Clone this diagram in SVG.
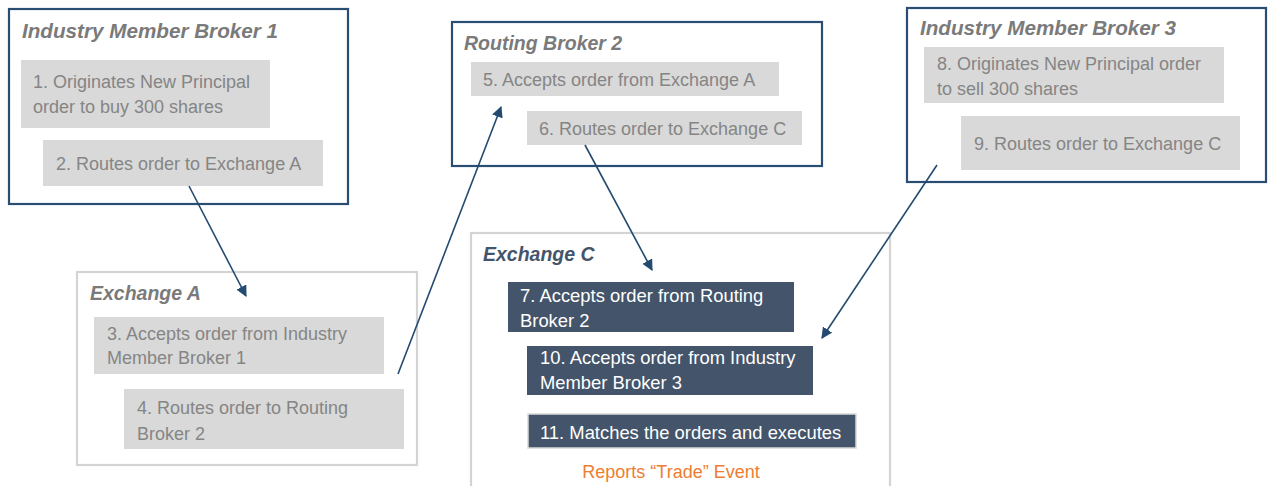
<svg xmlns="http://www.w3.org/2000/svg" width="1268" height="486" viewBox="0 0 1268 486">
<defs>
<style>
.navy{fill:#ffffff;stroke:#2a4d72;stroke-width:2.2}
.lite{fill:#ffffff;stroke:#d4d4d4;stroke-width:2.2}
.gbox{fill:#d9d9d9}
.dbox{fill:#44546a}
.dbox2{fill:#44546a;stroke:#d9d9d9;stroke-width:1.5}
.title{font-family:"Liberation Sans",Arial,sans-serif;font-weight:bold;font-style:italic;font-size:19.5px;fill:#7a7a7a}
.titleC{font-family:"Liberation Sans",Arial,sans-serif;font-weight:bold;font-style:italic;font-size:19.5px;fill:#44546a}
.t{font-family:"Liberation Sans",Arial,sans-serif;font-size:18px;fill:#858585}
.w{font-family:"Liberation Sans",Arial,sans-serif;font-size:18.4px;fill:#ffffff}
.o{font-family:"Liberation Sans",Arial,sans-serif;font-size:18px;fill:#ed7d31}
.conn{stroke:#234a70;stroke-width:1.6;fill:none}
</style>
<marker id="ah" viewBox="0 0 10 10" refX="9" refY="5" markerWidth="7" markerHeight="7" markerUnits="strokeWidth" orient="auto">
<path d="M0,0 L10,5 L0,10 z" fill="#234a70"/>
</marker>
</defs>
<rect width="1268" height="486" fill="#ffffff"/>

<g id="imb1">
<rect class="navy" x="9" y="9" width="339" height="195"/>
<text class="title" x="22" y="38" textLength="256" lengthAdjust="spacingAndGlyphs">Industry Member Broker 1</text>
<rect class="gbox" x="21" y="60" width="249" height="68"/>
<text class="t" x="33" y="88">1. Originates New Principal</text>
<text class="t" x="33" y="113">order to buy 300 shares</text>
<rect class="gbox" x="43" y="140" width="280" height="46"/>
<text class="t" x="56" y="170">2. Routes order to Exchange A</text>
</g>

<g id="exchangeA">
<rect class="lite" x="77" y="272" width="340" height="193"/>
<text class="title" x="90" y="300">Exchange A</text>
<rect class="gbox" x="94" y="317" width="290" height="57"/>
<text class="t" x="107" y="340">3. Accepts order from Industry</text>
<text class="t" x="107" y="364">Member Broker 1</text>
<rect class="gbox" x="124" y="389" width="280" height="60"/>
<text class="t" x="137" y="414">4. Routes order to Routing</text>
<text class="t" x="137" y="440">Broker 2</text>
</g>

<g id="rb2">
<rect class="navy" x="452" y="22" width="370" height="144"/>
<text class="title" x="464" y="50">Routing Broker 2</text>
<rect class="gbox" x="471" y="62" width="308" height="34"/>
<text class="t" x="483" y="86">5. Accepts order from Exchange A</text>
<rect class="gbox" x="527" y="111" width="275" height="34"/>
<text class="t" x="539" y="135">6. Routes order to Exchange C</text>
</g>

<g id="exchangeC">
<rect class="lite" x="471" y="233" width="419" height="270"/>
<text class="titleC" x="483" y="261">Exchange C</text>
<rect class="dbox" x="508" y="282" width="286" height="50"/>
<text class="w" x="520" y="302">7. Accepts order from Routing</text>
<text class="w" x="520" y="327">Broker 2</text>
<rect class="dbox" x="527" y="346" width="286" height="49"/>
<text class="w" x="540" y="364">10. Accepts order from Industry</text>
<text class="w" x="540" y="389">Member Broker 3</text>
<rect class="dbox2" x="528" y="414" width="328" height="34"/>
<text class="w" x="540" y="439">11. Matches the orders and executes</text>
<text class="o" x="671" y="478" text-anchor="middle">Reports “Trade” Event</text>
</g>

<g id="imb3">
<rect class="navy" x="907" y="8" width="359" height="174"/>
<text class="title" x="920" y="35" textLength="256" lengthAdjust="spacingAndGlyphs">Industry Member Broker 3</text>
<rect class="gbox" x="924" y="47" width="300" height="56"/>
<text class="t" x="937" y="70">8. Originates New Principal order</text>
<text class="t" x="937" y="95">to sell 300 shares</text>
<rect class="gbox" x="961" y="116" width="279" height="54"/>
<text class="t" x="974" y="150">9. Routes order to Exchange C</text>
</g>

<g id="connectors">
<line class="conn" x1="189" y1="186" x2="246" y2="296" marker-end="url(#ah)"/>
<line class="conn" x1="398" y1="374" x2="501" y2="107" marker-end="url(#ah)"/>
<line class="conn" x1="585" y1="145" x2="652" y2="270" marker-end="url(#ah)"/>
<line class="conn" x1="937" y1="165" x2="822" y2="338" marker-end="url(#ah)"/>
</g>
</svg>
